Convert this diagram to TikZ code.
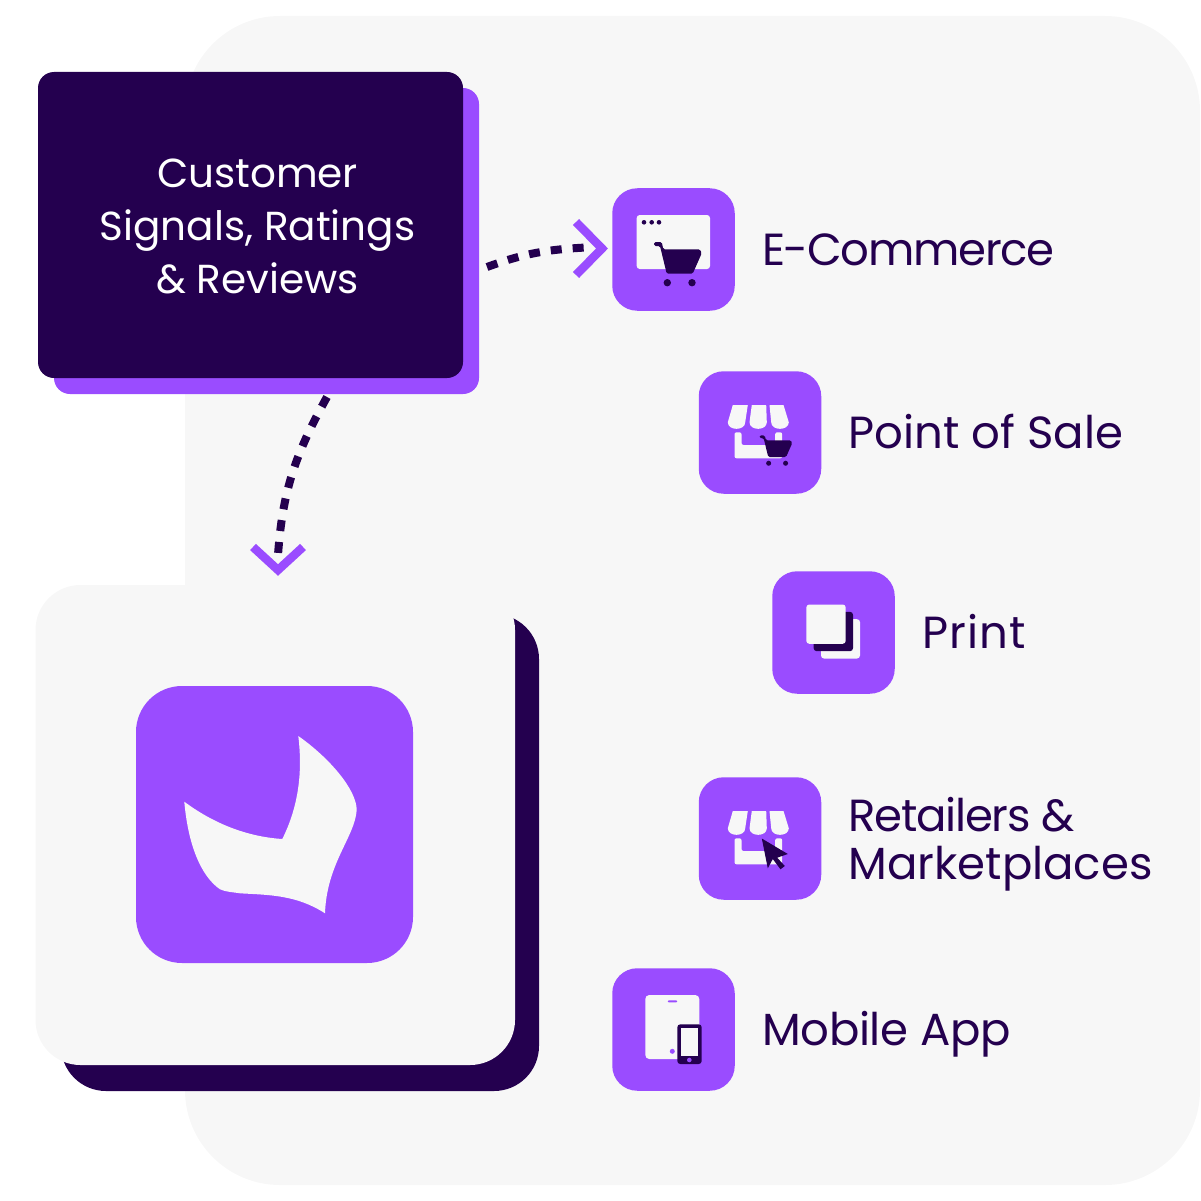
\documentclass[tikz,border=0pt]{standalone}
\usepackage{fontspec}
\setmainfont{Poppins}
\usetikzlibrary{positioning}
\definecolor{Violet}{HTML}{9A4CFF}
\definecolor{Ink}{HTML}{24004F}
\definecolor{Paper}{HTML}{F7F7F7}
\newcommand{\Spaced}[1]{\addfontfeature{LetterSpace=#1}}
\tikzstyle{Panel} = [fill=Paper, rectangle, rounded corners=45pt, inner sep=0pt]
\tikzstyle{Block} = [fill=Ink, rectangle, rounded corners=16pt, inner sep=0pt, minimum width=425pt, minimum height=306pt]
\tikzstyle{Tile} = [fill=Violet, rectangle, rounded corners=25pt, inner sep=0pt, minimum size=122.5pt]
\tikzstyle{Text} = [text=Ink, inner sep=0pt, align=left, font=\fontsize{45}{48}\selectfont]
\tikzstyle{Flow} = [draw=Ink, line width=8pt, dash pattern=on 11pt off 11pt]
\tikzstyle{Chevron} = [draw=Violet, line width=8.5pt, miter limit=10]
\tikzset{
  pics/cart/.style={code={
    \fill[Ink, rounded corners=1.5pt] (-19.5,-7.5) -- (-11.8,-7.5) -- (-10.2,-0.2) -- (26.5,-0.2) -- (28.2,3.8)
      -- (19.2,24.2) -- (-6.8,24.2) -- (-13.5,-3.5) -- (-19.5,-3.5) -- cycle;
    \fill[Ink] (-6.2,33.2) circle (3.7pt) (18.5,33.2) circle (3.7pt);
  }},
  pics/store/.style={code={
    \fill[Paper] (-27.2,-27.5) -- (-12.2,-27.5) -- (-14.8,-10.2) .. controls (-14.8,-1.5) and (-32.2,-1.5) .. (-32.2,-10.2) -- cycle;
    \fill[Paper] (-8.2,-27.5) -- (6.2,-27.5) -- (6.8,-10.2) .. controls (6.8,-1.5) and (-10.5,-1.5) .. (-10.5,-10.2) -- cycle;
    \fill[Paper] (9.5,-27.5) -- (23.5,-27.5) -- (28.8,-10.2) .. controls (28.8,-1.5) and (11.2,-1.5) .. (11.2,-10.2) -- cycle;
    \fill[Paper, rounded corners=2pt] (-25.5,-0.2) -- (-25.5,25.8) -- (22.2,25.8) -- (22.2,-0.2) -- (15.2,-0.2)
      -- (15.2,12.5) -- (-18.5,12.5) -- (-18.5,-0.2) -- cycle;
  }}
}
\begin{document}
\begin{tikzpicture}[x=1pt,y=-1pt]
  \useasboundingbox (0,0) rectangle (1201,1201);
  % backdrop and logo card
  \node[Panel, rounded corners=95pt, minimum width=1015pt, minimum height=1169pt] (backdrop) at (692.5,600.5) {};
  \node[Panel, fill=Ink, minimum width=478pt, minimum height=477pt] (card_shade) at (300,852.5) {};
  \node[Panel, minimum width=479.5pt, minimum height=480pt] (card) at (275.25,825) {};
  \node[Tile, rounded corners=46pt, minimum size=277pt] (logo) at (274.5,824.5) {};
  \fill[Paper] (298.3,736) .. controls (330,758.3) and (356.7,790) .. (356.7,810)
    .. controls (355,836.7) and (326.7,863.3) .. (325,913.3)
    .. controls (296.7,895) and (270,895) .. (240,893.3)
    .. controls (232,892) and (226,892) .. (220,889.3)
    .. controls (201.7,876.7) and (188.3,846.7) .. (184.3,801.7)
    .. controls (213.3,823.3) and (246.7,836.7) .. (282.3,839)
    .. controls (296.7,810) and (303.3,776.7) .. (298.3,736) -- cycle;
  % signals box
  \node[Block, fill=Violet] (signals_shade) at (266.5,241) {};
  \node[Block] (signals) at (250.5,225) {};
  \node[Text, text=white, align=center, font=\fontsize{40.5}{53}\selectfont] (signals_text) at (257.5,226.5) {Customer\\Signals, Ratings\\\& Reviews};
  % channels
  \node[Tile] (i_ecommerce) at (673.5,249.5) {};
  \node[Tile] (i_pos)       at (760,432.5) {};
  \node[Tile] (i_print)     at (833.5,632.5) {};
  \node[Tile] (i_retail)    at (760,838.5) {};
  \node[Tile] (i_mobile)    at (673.5,1029.5) {};
  \node[Text] (l_ecommerce) [right=27pt of i_ecommerce]           {\Spaced{-2.9}E-Commerce};
  \node[Text] (l_pos)       [right=27pt of i_pos, yshift=1pt]     {Point of Sale};
  \node[Text] (l_print)     [right=27pt of i_print, yshift=1pt]   {\Spaced{2.7}Print};
  \node[Text] (l_retail)    [right=27pt of i_retail, yshift=-6pt] {\Spaced{-2.8}Retailers \&\\Marketplaces};
  \node[Text] (l_mobile)    [right=27pt of i_mobile, yshift=-5pt] {\Spaced{-0.7}Mobile App};
  % e-commerce glyph
  \begin{scope}[shift={(i_ecommerce.center)}]
    \fill[Paper, rounded corners=3pt] (-36.8,-34.5) rectangle (36.5,19.5);
    \fill[Ink] (-29.5,-27.2) circle (2.3pt) (-21.8,-27.2) circle (2.3pt) (-14.5,-27.2) circle (2.3pt);
    \pic at (0,0) {cart};
  \end{scope}
  % point of sale glyph
  \begin{scope}[shift={(i_pos.center)}]
    \pic at (0,0) {store};
    \pic[scale=.685] at (12.9,8) {cart};
  \end{scope}
  % print glyph
  \begin{scope}[shift={(i_print.center)}]
    \fill[Paper, rounded corners=3pt] (-12.5,-13.3) rectangle (26.5,26);
    \fill[Ink, rounded corners=3pt] (-19.8,-20.7) rectangle (19.5,18.7);
    \fill[Paper, rounded corners=3pt] (-27.2,-28) rectangle (12.2,11.3);
  \end{scope}
  % retailers glyph
  \begin{scope}[shift={(i_retail.center)}]
    \pic at (0,0) {store};
    \fill[Ink] (1.8,0) -- (27.8,15.5) -- (17.2,19.2) -- (24.8,27.5) -- (20.5,30.8) -- (12.8,20.5) -- (7.8,29.8) -- cycle;
  \end{scope}
  % mobile glyph
  \begin{scope}[shift={(i_mobile.center)}]
    \fill[Paper, rounded corners=4pt] (-28.2,-34.5) rectangle (25.8,29.5);
    \fill[Violet, rounded corners=1pt] (-5.8,-29.2) rectangle (3.8,-27.2);
    \fill[Violet] (-1.2,21.8) circle (2.5pt);
    \fill[Ink, rounded corners=3pt] (3.8,-5.2) rectangle (28.2,34.5);
    \fill[Paper] (7.5,-1.2) rectangle (24.8,26.2);
    \fill[Violet] (15.8,30.5) circle (2.3pt);
  \end{scope}
  % connectors
  \coordinate (f_start)  at (487,267);
  \coordinate (f_end)    at (586,247.5);
  \coordinate (g_start)  at (327,397);
  \coordinate (g_end)    at (278,555);
  \coordinate (f_tip)    at (602,248.5);
  \coordinate (g_tip)    at (278,570);
  \draw[Flow] (f_start) to [out=20,in=183] (f_end);
  \draw[Flow] (g_start) to [out=241,in=86] (g_end);
  \draw[Chevron] (576,222) -- (f_tip) -- (576,275);
  \draw[Chevron] (253,547) -- (g_tip) -- (303,547);
\end{tikzpicture}
\end{document}
